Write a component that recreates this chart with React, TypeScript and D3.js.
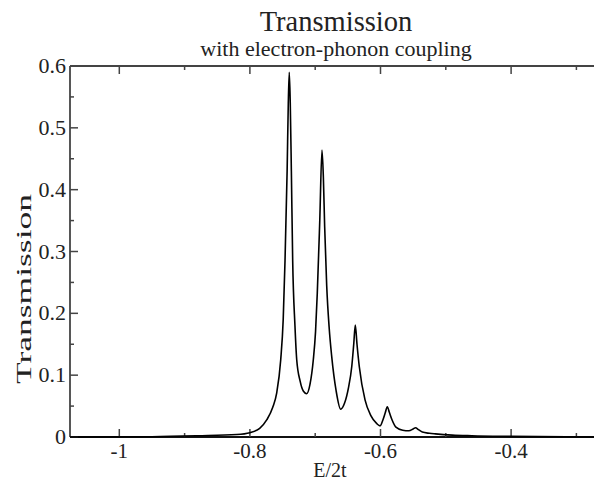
import React from "react";
import * as d3 from "d3";

const xData: number[] = [
  -1.0755, -0.95, -0.88, -0.82, -0.8, -0.785, -0.774, -0.765, -0.759, -0.7528, -0.749, -0.7462, -0.743, -0.7412, -0.7397,
  -0.7382, -0.7365, -0.7345, -0.731, -0.7283, -0.723, -0.718, -0.713, -0.708, -0.7029, -0.6995, -0.6968, -0.693, -0.6896,
  -0.6875, -0.6855, -0.6824, -0.6785, -0.6747, -0.668, -0.661, -0.655, -0.649, -0.644, -0.641, -0.6386, -0.636, -0.6325, -0.6237, -0.615,
  -0.606, -0.6007, -0.5962, -0.5925, -0.5896, -0.5865, -0.5824, -0.5764, -0.566, -0.5565, -0.55, -0.5463, -0.542, -0.536,
  -0.525, -0.5159, -0.49, -0.46, -0.4, -0.2608,
];
const yData: number[] = [
  0, 0.0005, 0.002, 0.004, 0.007, 0.014, 0.028, 0.048, 0.071, 0.125, 0.19, 0.286, 0.43, 0.54, 0.59,
  0.54, 0.43, 0.286, 0.18, 0.125, 0.09, 0.074, 0.07, 0.085, 0.125, 0.17, 0.233, 0.35, 0.464,
  0.42, 0.34, 0.245, 0.175, 0.13, 0.075, 0.045, 0.055, 0.08, 0.114, 0.15, 0.181, 0.15, 0.114, 0.06, 0.035,
  0.022, 0.018, 0.028, 0.04, 0.049, 0.04, 0.028, 0.016, 0.011, 0.01, 0.013, 0.015, 0.012, 0.008,
  0.006, 0.005, 0.003, 0.002, 0.001, 0,
];
const xMajorTicks: number[] = [-1, -0.8, -0.6, -0.4];
const xMinorTicks: number[] = [-0.9, -0.7, -0.5, -0.3];
const xTickLabels: string[] = ["-1", "-0.8", "-0.6", "-0.4"];
const yMajorTicks: number[] = [0, 0.1, 0.2, 0.3, 0.4, 0.5, 0.6];
const yMinorTicks: number[] = [0.05, 0.15, 0.25, 0.35, 0.45, 0.55];
const yTickLabels: string[] = ["0", "0.1", "0.2", "0.3", "0.4", "0.5", "0.6"];
const title = "Transmission";
const subtitle = "with electron-phonon coupling";
const xLabel = "E/2t";
const yLabel = "Transmission";

const W = 594;
const H = 482;
const L = 70;
const R = 602;
const T = 66;
const B = 437;

export default function App() {
  const x = d3.scaleLinear().domain([-1.0755, -0.2608]).range([L, R]);
  const y = d3.scaleLinear().domain([0, 0.6]).range([B, T]);
  const pts = xData.map((v, i) => [v, yData[i]] as [number, number]);
  const line = d3
    .line<[number, number]>()
    .x((d) => x(d[0]))
    .y((d) => y(d[1]))
    .curve(d3.curveMonotoneX);
  const font = "Liberation Serif";
  const ts: React.CSSProperties = { fontFamily: font };
  const axisColor = "#444";
  const textColor = "#222";
  return (
    <svg
      width={W}
      height={H}
      style={{ position: "absolute", left: 0, top: 0, background: "#fff", fontFamily: font }}
    >
      <rect x={0} y={0} width={W} height={H} fill="#fff" />
      {/* frame */}
      <line x1={L} x2={R} y1={T} y2={T} stroke={axisColor} strokeWidth={1.8} />
      <line x1={L} x2={L} y1={T} y2={B} stroke={axisColor} strokeWidth={1.8} />
      <line x1={L} x2={R} y1={B} y2={B} stroke="#111" strokeWidth={2.2} />
      {/* x ticks */}
      {xMajorTicks.map((t) => (
        <g key={"xm" + t}>
          <line x1={x(t)} x2={x(t)} y1={B} y2={B - 8} stroke={axisColor} strokeWidth={1.5} />
          <line x1={x(t)} x2={x(t)} y1={T} y2={T + 8} stroke={axisColor} strokeWidth={1.5} />
        </g>
      ))}
      {xMinorTicks.map((t) => (
        <g key={"xn" + t}>
          <line x1={x(t)} x2={x(t)} y1={B} y2={B - 4} stroke={axisColor} strokeWidth={1.5} />
          <line x1={x(t)} x2={x(t)} y1={T} y2={T + 4} stroke={axisColor} strokeWidth={1.5} />
        </g>
      ))}
      {/* y ticks */}
      {yMajorTicks.map((t) => (
        <line key={"ym" + t} x1={L} x2={L + 8} y1={y(t)} y2={y(t)} stroke={axisColor} strokeWidth={1.5} />
      ))}
      {yMinorTicks.map((t) => (
        <line key={"yn" + t} x1={L} x2={L + 4} y1={y(t)} y2={y(t)} stroke={axisColor} strokeWidth={1.5} />
      ))}
      {/* curve */}
      <path d={line(pts) || ""} fill="none" stroke="#000" strokeWidth={1.6} />
      {/* tick labels */}
      {xMajorTicks.map((t, i) => (
        <text key={"xl" + t} x={x(t)} y={458} textAnchor="middle" fontSize={21} fill={textColor} style={ts}>
          {xTickLabels[i]}
        </text>
      ))}
      {yMajorTicks.map((t, i) => (
        <text key={"yl" + t} x={66} y={y(t) + 7} textAnchor="end" fontSize={22} fill={textColor} style={ts}>
          {yTickLabels[i]}
        </text>
      ))}
      {/* titles */}
      <text x={336} y={31} textAnchor="middle" fontSize={28.5} fill={textColor} style={ts}>
        {title}
      </text>
      <text x={336} y={56} textAnchor="middle" fontSize={22} fill={textColor} style={ts}>
        {subtitle}
      </text>
      <text x={330} y={477} textAnchor="middle" fontSize={20} fill={textColor} style={ts}>
        {xLabel}
      </text>
      <text
        transform={`translate(31, 289) rotate(-90)`}
        textAnchor="middle"
        fontSize={22}
        fill={textColor}
        textLength={190}
        lengthAdjust="spacingAndGlyphs"
        style={ts}
      >
        {yLabel}
      </text>
    </svg>
  );
}
